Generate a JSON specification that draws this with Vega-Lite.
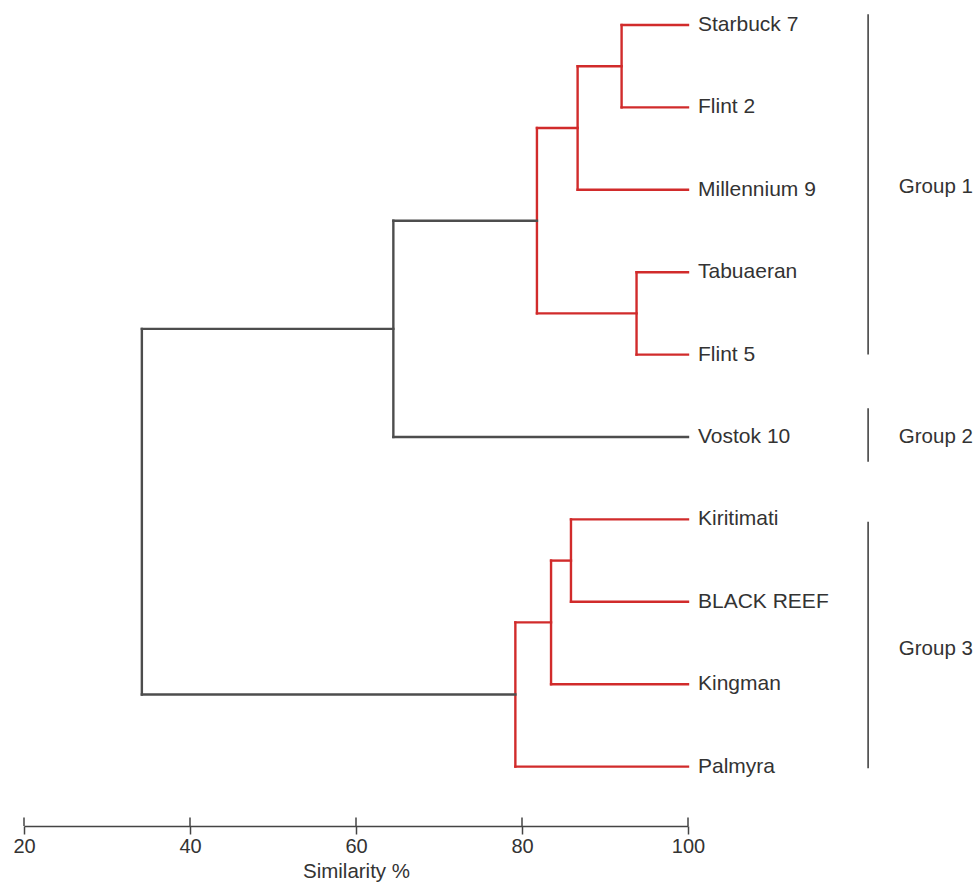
{
  "$schema": "https://vega.github.io/schema/vega-lite/v6.json",
  "width": 664,
  "height": 821,
  "autosize": {"type": "none"},
  "padding": {"left": 24, "right": 291, "top": 5, "bottom": 60},
  "background": "white",
  "config": {"view": {"stroke": null}, "font": "Liberation Sans"},
  "datasets": {
    "segments": [
      {"x": 92.0, "x2": 100, "y": 0, "y2": 0, "c": "red"},
      {"x": 92.0, "x2": 100, "y": 1, "y2": 1, "c": "red"},
      {"x": 86.7, "x2": 100, "y": 2, "y2": 2, "c": "red"},
      {"x": 93.8, "x2": 100, "y": 3, "y2": 3, "c": "red"},
      {"x": 93.8, "x2": 100, "y": 4, "y2": 4, "c": "red"},
      {"x": 64.5, "x2": 100, "y": 5, "y2": 5, "c": "black"},
      {"x": 85.9, "x2": 100, "y": 6, "y2": 6, "c": "red"},
      {"x": 85.9, "x2": 100, "y": 7, "y2": 7, "c": "red"},
      {"x": 83.5, "x2": 100, "y": 8, "y2": 8, "c": "red"},
      {"x": 79.2, "x2": 100, "y": 9, "y2": 9, "c": "red"},
      {"x": 92.0, "x2": 92.0, "y": 0, "y2": 1, "c": "red"},
      {"x": 86.7, "x2": 86.7, "y": 0.5, "y2": 2, "c": "red"},
      {"x": 86.7, "x2": 92.0, "y": 0.5, "y2": 0.5, "c": "red"},
      {"x": 93.8, "x2": 93.8, "y": 3, "y2": 4, "c": "red"},
      {"x": 81.8, "x2": 81.8, "y": 1.25, "y2": 3.5, "c": "red"},
      {"x": 81.8, "x2": 86.7, "y": 1.25, "y2": 1.25, "c": "red"},
      {"x": 81.8, "x2": 93.8, "y": 3.5, "y2": 3.5, "c": "red"},
      {"x": 64.5, "x2": 64.5, "y": 2.375, "y2": 5, "c": "black"},
      {"x": 64.5, "x2": 81.8, "y": 2.375, "y2": 2.375, "c": "black"},
      {"x": 85.9, "x2": 85.9, "y": 6, "y2": 7, "c": "red"},
      {"x": 83.5, "x2": 83.5, "y": 6.5, "y2": 8, "c": "red"},
      {"x": 83.5, "x2": 85.9, "y": 6.5, "y2": 6.5, "c": "red"},
      {"x": 79.2, "x2": 79.2, "y": 7.25, "y2": 9, "c": "red"},
      {"x": 79.2, "x2": 83.5, "y": 7.25, "y2": 7.25, "c": "red"},
      {"x": 34.2, "x2": 34.2, "y": 3.6875, "y2": 8.125, "c": "black"},
      {"x": 34.2, "x2": 64.5, "y": 3.6875, "y2": 3.6875, "c": "black"},
      {"x": 34.2, "x2": 79.2, "y": 8.125, "y2": 8.125, "c": "black"}
    ],
    "leaves": [
      {"name": "Starbuck 7", "pos": 0},
      {"name": "Flint 2", "pos": 1},
      {"name": "Millennium 9", "pos": 2},
      {"name": "Tabuaeran", "pos": 3},
      {"name": "Flint 5", "pos": 4},
      {"name": "Vostok 10", "pos": 5},
      {"name": "Kiritimati", "pos": 6},
      {"name": "BLACK REEF", "pos": 7},
      {"name": "Kingman", "pos": 8},
      {"name": "Palmyra", "pos": 9}
    ],
    "groups": [
      {"group": "Group 1", "gx": 121.7, "lx": 125.4, "top": -0.13, "bottom": 4.0, "mid": 1.97},
      {"group": "Group 2", "gx": 121.7, "lx": 125.4, "top": 4.65, "bottom": 5.3, "mid": 5.0},
      {"group": "Group 3", "gx": 121.7, "lx": 125.4, "top": 6.03, "bottom": 9.02, "mid": 7.57}
    ],
    "ticks": [{"v": 20}, {"v": 40}, {"v": 60}, {"v": 80}, {"v": 100}]
  },
  "layer": [
    {
      "data": {"name": "ticks"},
      "mark": {"type": "rule", "color": "#444444", "strokeWidth": 1.5},
      "encoding": {
        "x": {
          "field": "v", "type": "quantitative",
          "scale": {"domain": [20, 100], "nice": false, "zero": false},
          "axis": {
            "values": [20, 40, 60, 80, 100],
            "title": "Similarity %",
            "grid": false,
            "labelFlush": false,
            "domainColor": "#444444",
            "domainWidth": 1.5,
            "tickColor": "#444444",
            "tickWidth": 1.5,
            "tickSize": 8,
            "labelFontSize": 20,
            "labelColor": "#333333",
            "labelPadding": 2,
            "labelFont": "Liberation Sans",
            "titleFont": "Liberation Sans",
            "titleFontSize": 20.5,
            "titleFontWeight": "normal",
            "titleColor": "#333333",
            "titlePadding": 5
          }
        },
        "y": {"datum": 9.6177, "type": "quantitative", "scale": {"domain": [-0.2427, 9.7209], "reverse": true, "nice": false, "zero": false}, "axis": null},
        "y2": {"datum": 9.7209}
      }
    },
    {
      "data": {"name": "segments"},
      "mark": {"type": "rule", "strokeWidth": 2.4, "strokeCap": "square"},
      "encoding": {
        "x": {"field": "x", "type": "quantitative"},
        "x2": {"field": "x2"},
        "y": {"field": "y", "type": "quantitative"},
        "y2": {"field": "y2"},
        "color": {"field": "c", "type": "nominal", "scale": {"domain": ["red", "black"], "range": ["#d12b2b", "#4d4d4d"]}, "legend": null}
      }
    },
    {
      "data": {"name": "leaves"},
      "mark": {"type": "text", "align": "left", "baseline": "middle", "dx": 10, "fontSize": 21, "color": "#333333", "font": "Liberation Sans"},
      "encoding": {
        "x": {"datum": 100, "type": "quantitative"},
        "y": {"field": "pos", "type": "quantitative"},
        "text": {"field": "name"}
      }
    },
    {
      "data": {"name": "groups"},
      "mark": {"type": "rule", "color": "#444444", "strokeWidth": 1.6},
      "encoding": {
        "x": {"field": "gx", "type": "quantitative"},
        "y": {"field": "top", "type": "quantitative"},
        "y2": {"field": "bottom"}
      }
    },
    {
      "data": {"name": "groups"},
      "mark": {"type": "text", "align": "left", "baseline": "middle", "fontSize": 20.5, "color": "#333333", "font": "Liberation Sans"},
      "encoding": {
        "x": {"field": "lx", "type": "quantitative"},
        "y": {"field": "mid", "type": "quantitative"},
        "text": {"field": "group"}
      }
    }
  ]
}
